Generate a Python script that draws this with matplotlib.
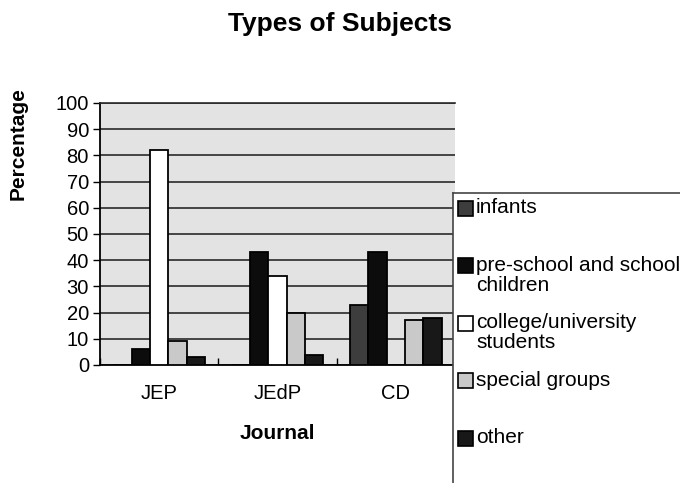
import numpy as np
import matplotlib.pyplot as plt
from matplotlib.patches import Rectangle

plt.rcParams['font.family'] = ['Liberation Sans', 'DejaVu Sans']

# data
journals = ['JEP', 'JEdP', 'CD']
subject_types = ['infants', 'pre-school and school\nchildren', 'college/university\nstudents',
                 'special groups', 'other']
infants = [0, 0, 23]
preschool = [6, 43, 43]
college = [82, 34, 0]
special = [9, 20, 17]
other = [3, 4, 18]
y_ticks = list(range(0, 101, 10))

series = [infants, preschool, college, special, other]
colors = ['#3d3d3d', '#0c0c0c', '#ffffff', '#c9c9c9', '#181818']

fig = plt.figure(figsize=(6.8, 4.83), dpi=100)
ax = fig.add_axes([100 / 680, 1 - 365 / 483, 355 / 680, 262 / 483])
ax.set_facecolor('#e3e3e3')

x = np.arange(len(journals))
bar_w = 0.155
for i, (vals, col) in enumerate(zip(series, colors)):
    ax.bar(x + (i - 2) * bar_w, vals, bar_w, color=col, edgecolor='black',
           linewidth=1.3, zorder=3)

ax.set_xlim(-0.5, len(journals) - 0.5)
ax.set_ylim(0, 100)
ax.set_yticks(y_ticks)
ax.set_yticklabels([str(v) for v in y_ticks], fontsize=14.5)
ax.yaxis.grid(True, color='#2a2a2a', linewidth=1.2, zorder=1)
ax.tick_params(axis='y', direction='out', length=5, width=1, pad=3)

# category labels between boundary ticks
ax.set_xticks(np.arange(-0.5, len(journals), 1.0))
ax.set_xticklabels([])
ax.set_xticks(x, minor=True)
ax.set_xticklabels(journals, minor=True, fontsize=14.5)
ax.tick_params(axis='x', which='major', direction='in', length=5, width=1)
ax.tick_params(axis='x', which='minor', length=0, pad=14)

for s in ax.spines.values():
    s.set_color('black')
    s.set_linewidth(1.3)
ax.spines['right'].set_visible(False)
ax.spines['top'].set_color('#2a2a2a')
ax.spines['top'].set_linewidth(1.2)

ax.set_xlabel('Journal', fontsize=15, fontweight='bold', labelpad=15)
fig.text(18 / 680, 1 - 144 / 483, 'Percentage', rotation=90, fontsize=15,
         fontweight='bold', ha='center', va='center')
fig.text(0.5, 1 - 24 / 483, 'Types of Subjects', fontsize=19, fontweight='bold',
         ha='center', va='center')

# legend panel on the right, partly cut by the figure edge
lax = fig.add_axes([453 / 680, -0.05, 0.4, (483 - 193) / 483 + 0.05])
lax.set_xlim(0, 272)
lax.set_ylim(290 + 0.05 * 483, 0)
lax.set_xticks([])
lax.set_yticks([])
lax.set_facecolor('white')
for s in lax.spines.values():
    s.set_color('#444444')
    s.set_linewidth(1.2)
lax.set_zorder(5)

row_pitch = 57.5
for i, (label, col) in enumerate(zip(subject_types, colors)):
    yc = 15 + row_pitch * i
    lax.add_patch(Rectangle((5, yc - 7.5), 15, 15, facecolor=col,
                            edgecolor='black', linewidth=1.2))
    lax.text(23, yc - 10, label, fontsize=15, va='top', ha='left',
             linespacing=1.08)

fig.savefig('out.png', dpi=100)
